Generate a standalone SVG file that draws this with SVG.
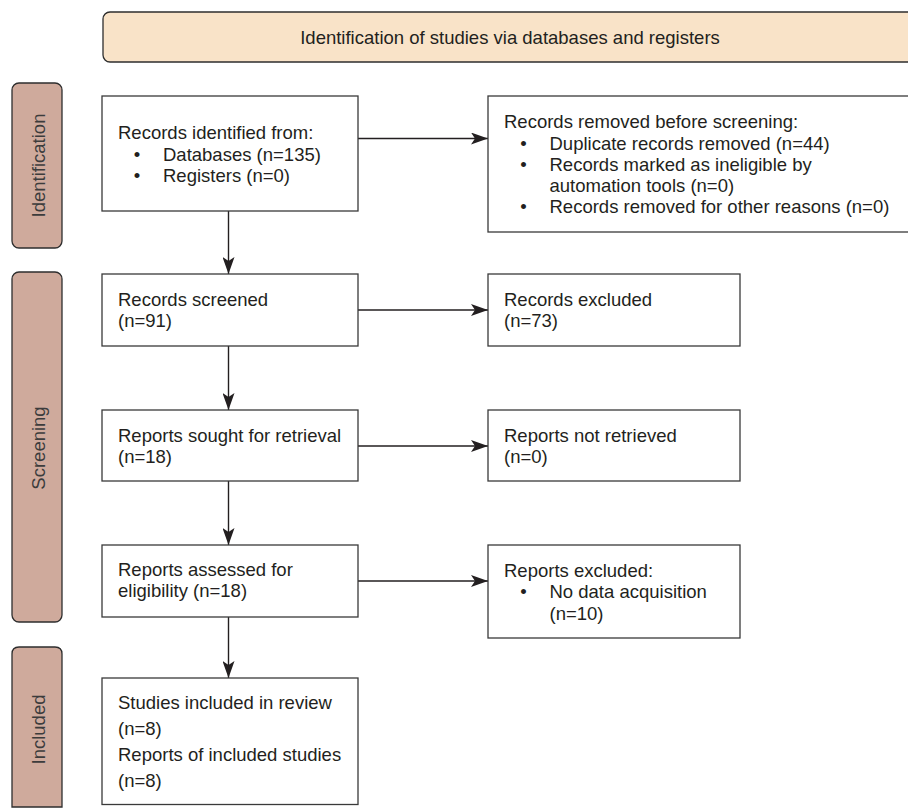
<svg xmlns="http://www.w3.org/2000/svg" width="908" height="808" viewBox="0 0 908 808">
  <style>
    text { font-family: "Liberation Sans", Arial, Helvetica, sans-serif; font-size: 18.5px; fill: #231f20; }
    .box { fill: #ffffff; stroke: #3a3a3a; stroke-width: 1.3; }
    .header { fill: #f9e3c8; stroke: #2e2e2e; stroke-width: 1.3; }
    .side { fill: #cfaa9c; stroke: #2e2e2e; stroke-width: 1.3; }
    .side-text { fill: #3c3c3c; }
    .conn { stroke: #231f20; stroke-width: 1.4; fill: none; marker-end: url(#arrow); }
  </style>
  <defs>
    <marker id="arrow" markerUnits="userSpaceOnUse" viewBox="0 0 17 12" refX="17" refY="6" markerWidth="17" markerHeight="12" orient="auto">
      <path d="M0,0 L17,6 L0,12 L4,6 Z" fill="#231f20"/>
    </marker>
  </defs>

  <g id="header">
    <rect class="header" x="103" y="12" width="812" height="50" rx="7"/>
    <text x="510" y="44" text-anchor="middle">Identification of studies via databases and registers</text>
  </g>

  <g id="side-identification">
    <rect class="side" x="12" y="83" width="50" height="165" rx="7"/>
    <text class="side-text" x="45" y="165.5" text-anchor="middle" transform="rotate(-90 45 165.5)">Identification</text>
  </g>
  <g id="side-screening">
    <rect class="side" x="12" y="272" width="50" height="350" rx="7"/>
    <text class="side-text" x="45" y="448" text-anchor="middle" transform="rotate(-90 45 448)">Screening</text>
  </g>
  <g id="side-included">
    <path class="side" d="M12,807 L12,654 Q12,647 19,647 L55,647 Q62,647 62,654 L62,807 Z"/>
    <text class="side-text" x="45" y="729.5" text-anchor="middle" transform="rotate(-90 45 729.5)">Included</text>
  </g>

  <g id="connectors">
    <line class="conn" x1="358" y1="138.5" x2="488" y2="138.5"/>
    <line class="conn" x1="228.5" y1="211" x2="228.5" y2="274"/>
    <line class="conn" x1="358" y1="310" x2="488" y2="310"/>
    <line class="conn" x1="228.5" y1="346" x2="228.5" y2="410"/>
    <line class="conn" x1="358" y1="446" x2="488" y2="446"/>
    <line class="conn" x1="228.5" y1="481" x2="228.5" y2="545"/>
    <line class="conn" x1="358" y1="581" x2="488" y2="581"/>
    <line class="conn" x1="228.5" y1="617" x2="228.5" y2="678"/>
  </g>

  <g id="records-identified">
    <rect class="box" x="102" y="96" width="256" height="115"/>
    <text x="118" y="139">Records identified from:</text>
    <text x="137" y="160.5" text-anchor="middle">•</text>
    <text x="163" y="160.5">Databases (n=135)</text>
    <text x="137" y="181.5" text-anchor="middle">•</text>
    <text x="163" y="181.5">Registers (n=0)</text>
  </g>

  <g id="records-removed">
    <rect class="box" x="488" y="96" width="430" height="136"/>
    <text x="504" y="128">Records removed before screening:</text>
    <text x="523.5" y="149.5" text-anchor="middle">•</text>
    <text x="549.5" y="149.5">Duplicate records removed (n=44)</text>
    <text x="523.5" y="170.5" text-anchor="middle">•</text>
    <text x="549.5" y="170.5">Records marked as ineligible by</text>
    <text x="549.5" y="191.5">automation tools (n=0)</text>
    <text x="523.5" y="213" text-anchor="middle">•</text>
    <text x="549.5" y="213">Records removed for other reasons (n=0)</text>
  </g>

  <g id="records-screened">
    <rect class="box" x="102" y="274" width="256" height="72"/>
    <text x="118" y="305.5">Records screened</text>
    <text x="118" y="326.5">(n=91)</text>
  </g>

  <g id="records-excluded">
    <rect class="box" x="488" y="274" width="252" height="72"/>
    <text x="504" y="305.5">Records excluded</text>
    <text x="504" y="326.5">(n=73)</text>
  </g>

  <g id="reports-sought">
    <rect class="box" x="102" y="410" width="256" height="71"/>
    <text x="118" y="441.5">Reports sought for retrieval</text>
    <text x="118" y="462.5">(n=18)</text>
  </g>

  <g id="reports-not-retrieved">
    <rect class="box" x="488" y="410" width="252" height="71"/>
    <text x="504" y="441.5">Reports not retrieved</text>
    <text x="504" y="462.5">(n=0)</text>
  </g>

  <g id="reports-assessed">
    <rect class="box" x="102" y="545" width="256" height="72"/>
    <text x="118" y="576">Reports assessed for</text>
    <text x="118" y="597">eligibility (n=18)</text>
  </g>

  <g id="reports-excluded">
    <rect class="box" x="488" y="545" width="252" height="93"/>
    <text x="504" y="576.5">Reports excluded:</text>
    <text x="523.5" y="598" text-anchor="middle">•</text>
    <text x="549.5" y="598">No data acquisition</text>
    <text x="549.5" y="619.5">(n=10)</text>
  </g>

  <g id="studies-included">
    <rect class="box" x="102" y="678" width="256" height="126.5"/>
    <text x="118" y="709">Studies included in review</text>
    <text x="118" y="735">(n=8)</text>
    <text x="118" y="760.5">Reports of included studies</text>
    <text x="118" y="786.5">(n=8)</text>
  </g>
</svg>
